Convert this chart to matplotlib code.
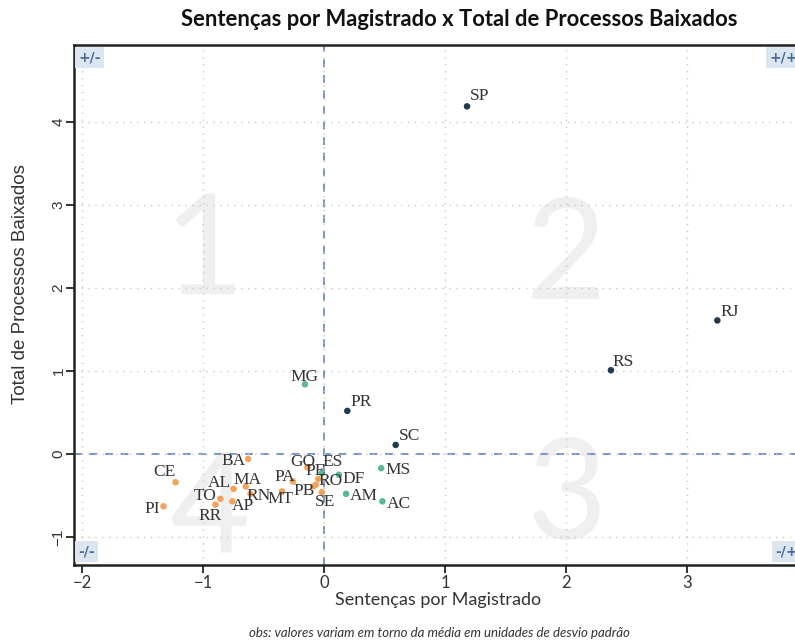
import matplotlib
matplotlib.use("Agg")
import matplotlib.pyplot as plt

# estados, coordenadas padronizadas (desvio padrao) e grupo
uf = ["SP", "RJ", "RS", "PR", "SC",
      "MG", "MS", "AC", "AM", "DF", "ES",
      "SE", "RO", "PE", "GO", "PB", "PA", "MT", "RN", "MA", "AL",
      "AP", "TO", "RR", "BA", "CE", "PI"]
sent_mag = [1.18, 3.25, 2.37, 0.19, 0.59,
            -0.16, 0.47, 0.48, 0.18, 0.12, -0.02,
            -0.02, -0.07, -0.05, -0.14, -0.09, -0.26, -0.35, -0.61, -0.65, -0.75,
            -0.76, -0.86, -0.90, -0.63, -1.23, -1.33]
proc_baix = [4.19, 1.61, 1.01, 0.52, 0.11,
             0.84, -0.17, -0.57, -0.48, -0.25, -0.23,
             -0.46, -0.37, -0.30, -0.16, -0.39, -0.33, -0.45, -0.48, -0.39, -0.42,
             -0.57, -0.54, -0.61, -0.06, -0.34, -0.63]
grupo = [0, 0, 0, 0, 0,
         1, 1, 1, 1, 1, 1,
         2, 2, 2, 2, 2, 2, 2, 2, 2, 2,
         2, 2, 2, 2, 2, 2]
cores = ["#1d3b4c", "#5bb79b", "#f4a25a"]

xticks = [-2, -1, 0, 1, 2, 3]
yticks = [-1, 0, 1, 2, 3, 4]

# deslocamento dos rotulos em pixels
desl = {"SP": (3, 10, "left"), "RJ": (3, 8, "left"), "RS": (2, 8, "left"),
        "PR": (3, 9, "left"), "SC": (3, 9, "left"), "MG": (-1, 7, "center"),
        "MS": (4, -2, "left"), "AC": (4, -3, "left"), "AM": (4, -2, "left"),
        "DF": (4, -4, "left"), "ES": (11, 11, "center"), "SE": (3, -10, "center"),
        "RO": (15, 4, "center"), "PE": (-3, 8, "center"), "GO": (-5, 5, "center"),
        "PB": (-9, -5, "center"), "PA": (-8, 4, "center"), "MT": (-1, -8, "center"),
        "RN": (8, -2, "center"), "MA": (2, 6, "center"), "AL": (-14, 6, "center"),
        "AP": (11, -5, "center"), "TO": (-15, 3, "center"), "RR": (-5, -11, "center"),
        "BA": (-15, -2, "center"), "CE": (-11, 10, "center"), "PI": (-11, -3, "center")}

fig = plt.figure(figsize=(7.95, 6.44), dpi=100)
ax = fig.add_axes([0.0931, 0.1227, 0.9157, 0.8075])
ax.set_xlim(-2.07, 3.95)
ax.set_ylim(-1.337, 4.93)

# numeros dos quadrantes
qcor = "#efefef"
for txt, qx, qy in [("1", -1.0, 2.4), ("2", 2.0, 2.35), ("3", 2.0, -0.55), ("4", -0.95, -0.7)]:
    ax.text(qx, qy, txt, fontsize=100, color=qcor, ha="center", va="center",
            family="Lato", zorder=0)

ax.set_xticks(xticks)
ax.set_yticks(yticks)
ax.grid(True, linestyle=(0, (1, 4)), color="#c8c8c8", linewidth=1.0, zorder=0)
ax.axhline(0, color="#7595c2", linestyle=(0, (4, 4)), linewidth=1.4, zorder=1)
ax.axvline(0, color="#7595c2", linestyle=(0, (4, 4)), linewidth=1.4, zorder=1)

for i in range(len(uf)):
    ax.scatter(sent_mag[i], proc_baix[i], s=22, color=cores[grupo[i]], zorder=3,
               edgecolors="none")
for i in range(len(uf)):
    dx, dy, ha = desl[uf[i]]
    ax.annotate(uf[i], (sent_mag[i], proc_baix[i]), xytext=(dx, dy),
                textcoords="offset pixels", ha=ha, va="center", fontsize=12.5,
                color="#333333", family="Liberation Serif", zorder=4)

# rotulos dos cantos
caixa = dict(boxstyle="square,pad=0.25", facecolor="#dce6f1", edgecolor="none")
ck = dict(fontsize=10, color="#4a6c9b", fontweight="bold", family="DejaVu Sans",
          bbox=caixa, transform=ax.transAxes, zorder=5)
ax.text(0.006, 0.99, "+/-", ha="left", va="top", **ck)
ax.text(0.994, 0.99, "+/+", ha="right", va="top", **ck)
ax.text(0.006, 0.012, "-/-", ha="left", va="bottom", **ck)
ax.text(0.994, 0.012, "-/+", ha="right", va="bottom", **ck)

for s in ["left", "bottom", "top"]:
    ax.spines[s].set_linewidth(1.8)
    ax.spines[s].set_color("#222222")
ax.spines["right"].set_visible(False)
ax.tick_params(axis="both", direction="out", length=6, width=1.3, color="#222222")
ax.tick_params(axis="x", labelsize=12, labelcolor="#333333", pad=1)
ax.tick_params(axis="y", labelsize=11, labelcolor="#333333", pad=0)
for lb in ax.get_xticklabels():
    lb.set_family("Lato")
for lb in ax.get_yticklabels():
    lb.set_family("Liberation Sans")
    lb.set_rotation(90)
    lb.set_va("center")

ax.set_xlabel("Sentenças por Magistrado", fontsize=13, family="Lato",
              color="#333333", labelpad=1)
ax.set_ylabel("Total de Processos Baixados", fontsize=13.5, family="Liberation Sans",
              color="#333333")
ax.yaxis.set_label_coords(-0.062, 0.54)
fig.text(0.578, 0.969, "Sentenças por Magistrado x Total de Processos Baixados",
         ha="center", va="center", fontsize=15.8, fontweight="bold", family="Lato",
         color="#111111")
fig.text(0.553, 0.017, "obs: valores variam em torno da média em unidades de desvio padrão",
         ha="center", va="center", fontsize=9.5, style="italic", family="Lato",
         color="#333333")

fig.savefig("out.png", dpi=100)
